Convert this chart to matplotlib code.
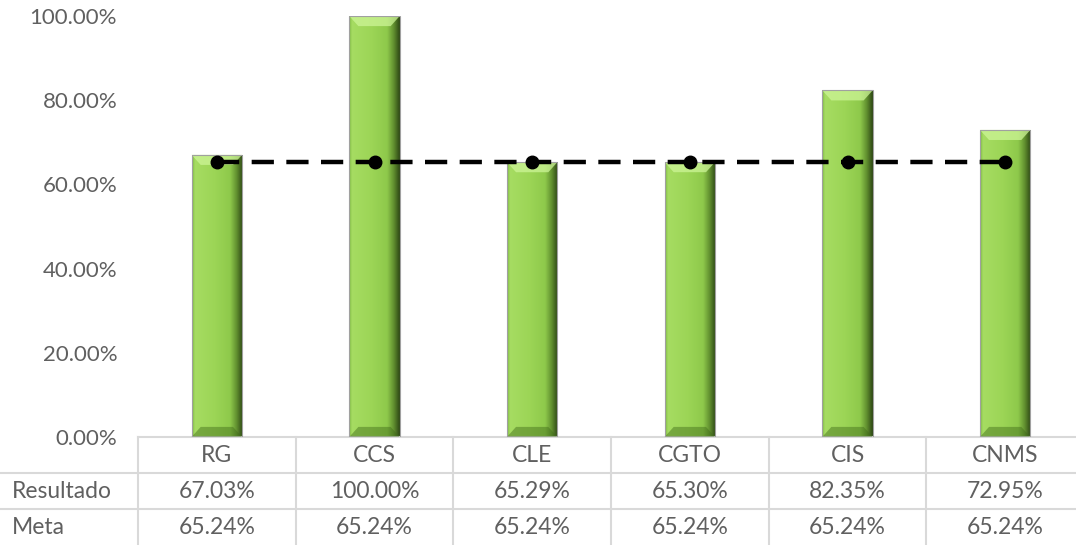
import numpy as np
import matplotlib
matplotlib.use('Agg')
import matplotlib.pyplot as plt
from matplotlib.colors import LinearSegmentedColormap
from matplotlib.patches import Polygon, Rectangle
import matplotlib.transforms as mtransforms

categories = ['RG', 'CCS', 'CLE', 'CGTO', 'CIS', 'CNMS']
resultado = [67.03, 100.00, 65.29, 65.30, 82.35, 72.95]
meta = [65.24, 65.24, 65.24, 65.24, 65.24, 65.24]
row_labels = ['Resultado', 'Meta']
yticks = [0, 20, 40, 60, 80, 100]

plt.rcParams['font.family'] = ['Lato', 'DejaVu Sans']
txt_color = '#606060'
grid_color = '#d9d9d9'

W, H = 1076, 545
fig = plt.figure(figsize=(W / 100, H / 100), dpi=100)
ax_left, ax_right, ax_top, ax_bottom = 138, 1084, 16, 437
ax = fig.add_axes([ax_left / W, 1 - ax_bottom / H,
                   (ax_right - ax_left) / W, (ax_bottom - ax_top) / H])

x = np.arange(len(categories))
bar_w = 0.32
ax.set_xlim(-0.5, len(categories) - 0.5)
ax.set_ylim(0, 100)

# bevelled bars
grad = LinearSegmentedColormap.from_list('g', [
    (0.0, '#7fb942'), (0.06, '#a6dc62'), (0.45, '#9cd556'),
    (0.75, '#8ec94b'), (0.88, '#618f2f'), (1.0, '#2c4614')])
gradient = np.linspace(0, 1, 256).reshape(1, -1)
bars = ax.bar(x, resultado, width=bar_w, color='none', edgecolor='#a0a0a0',
              linewidth=0.8, zorder=3)
bx = bar_w * 0.18
by = 2.4
for b in bars:
    x0, x1 = b.get_x(), b.get_x() + b.get_width()
    h = b.get_height()
    im = ax.imshow(gradient, extent=(x0, x1, 0, h), aspect='auto', cmap=grad,
                   zorder=2, interpolation='bilinear')
    im.set_clip_path(Rectangle((x0, 0), x1 - x0, h, transform=ax.transData))
    top = Polygon([(x0, h), (x1, h), (x1 - bx, h - by), (x0 + bx, h - by)],
                  closed=True, facecolor='#cdf597', alpha=0.75, edgecolor='none', zorder=2.5)
    bot = Polygon([(x0, 0), (x1, 0), (x1 - bx, by), (x0 + bx, by)],
                  closed=True, facecolor='#3f6a18', alpha=0.45, edgecolor='none', zorder=2.5)
    ax.add_patch(top)
    ax.add_patch(bot)

# meta line
ax.plot(x, meta, color='black', linewidth=3.2, dashes=(5, 2.8),
        marker='o', markersize=9, zorder=5)

for s in ax.spines.values():
    s.set_visible(False)
ax.set_xticks([])
ax.set_yticks(yticks)
ax.set_yticklabels(['%.2f%%' % v for v in yticks], fontsize=16, color=txt_color)
ax.tick_params(axis='y', length=0, pad=15)

# data table
trans = mtransforms.blended_transform_factory(ax.transData, ax.transAxes)
row_h = 36 / (ax_bottom - ax_top)
lab_x = -0.5 - ax_left / ((ax_right - ax_left) / len(categories))
lw = 1.5
ax.plot([-0.5, 5.5], [0, 0], color=grid_color, lw=lw, transform=trans, clip_on=False)
for k in (1, 2):
    ax.plot([lab_x, 5.5], [-k * row_h, -k * row_h], color=grid_color, lw=lw,
            transform=trans, clip_on=False)
for xv in np.arange(-0.5, 6, 1.0):
    ax.plot([xv, xv], [0, -3 * row_h], color=grid_color, lw=lw,
            transform=trans, clip_on=False)

for i, c in enumerate(categories):
    ax.text(i, -0.5 * row_h, c, ha='center', va='center', fontsize=16.5,
            color=txt_color, transform=trans)
for r, (lab, vals) in enumerate(zip(row_labels, [resultado, meta])):
    yc = -(r + 1.5) * row_h
    ax.text(lab_x + 0.075, yc, lab, ha='left', va='center', fontsize=16.5,
            color=txt_color, transform=trans)
    for i, v in enumerate(vals):
        ax.text(i, yc, '%.2f%%' % v, ha='center', va='center', fontsize=16.5,
                color=txt_color, transform=trans)

plt.savefig('out.png', dpi=100)
